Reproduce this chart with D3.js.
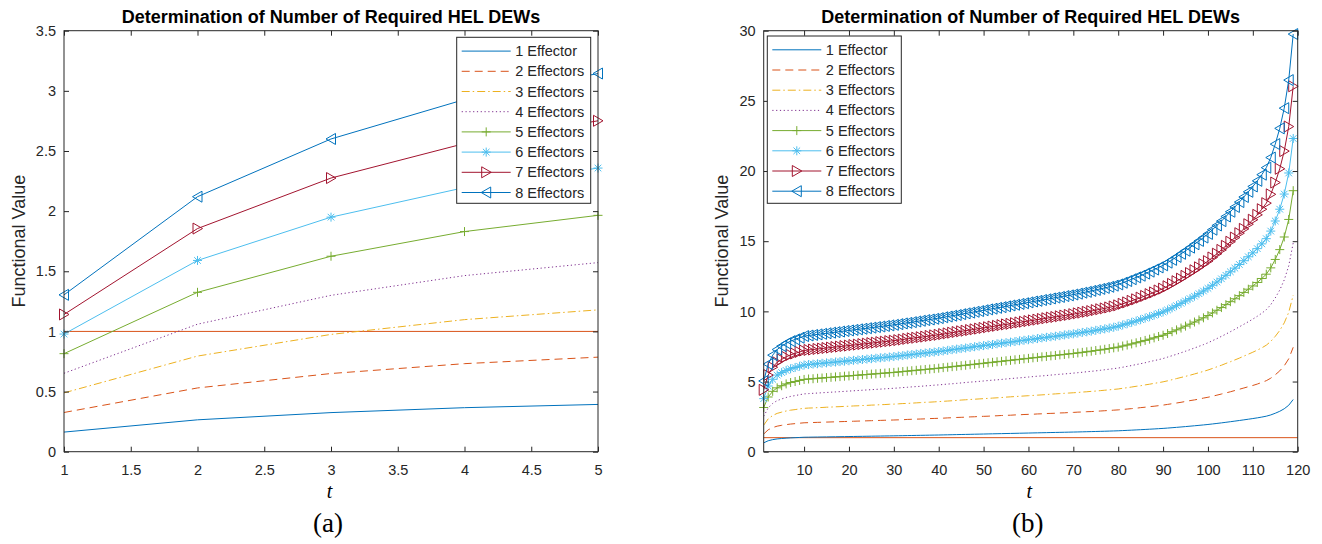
<!DOCTYPE html>
<html><head><meta charset="utf-8">
<script src="https://cdn.jsdelivr.net/npm/d3@7"></script>
<style>
body{margin:0;background:#fff}
svg{display:block}
</style>
</head><body>
<svg id="c" width="1322" height="544"></svg>
<script>
// ---------------- data ----------------
const seriesNames = ["1 Effector","2 Effectors","3 Effectors","4 Effectors","5 Effectors","6 Effectors","7 Effectors","8 Effectors"];
const chartTitle = "Determination of Number of Required HEL DEWs";
const yLabel = "Functional Value";
const xLabel = "t";
const refValue = 1;

// panel (a)
const tA = [1,2,3,4,5];
const a1 = [0.163,0.265,0.325,0.366,0.393];
const a2 = [0.326,0.530,0.650,0.732,0.786];
const a3 = [0.489,0.795,0.975,1.098,1.179];
const a4 = [0.652,1.060,1.300,1.464,1.572];
const a5 = [0.815,1.325,1.625,1.830,1.965];
const a6 = [0.978,1.590,1.950,2.196,2.358];
const a7 = [1.141,1.855,2.275,2.562,2.751];
const a8 = [1.304,2.120,2.600,2.928,3.144];
const xTicksA = [1,1.5,2,2.5,3,3.5,4,4.5,5];
const yTicksA = [0,0.5,1,1.5,2,2.5,3,3.5];

// panel (b)
const tB = d3.range(1,120);
const b1 = [0.630,0.780,0.860,0.910,0.940,0.965,0.985,1.000,1.015,1.030,
1.035,1.040,1.045,1.050,1.055,1.060,1.065,1.070,1.075,1.080,
1.085,1.090,1.095,1.100,1.105,1.110,1.115,1.120,1.125,1.130,
1.136,1.142,1.148,1.154,1.160,1.166,1.172,1.178,1.184,1.190,
1.197,1.204,1.211,1.218,1.225,1.232,1.239,1.246,1.253,1.260,
1.267,1.274,1.281,1.288,1.295,1.302,1.309,1.316,1.323,1.330,
1.337,1.344,1.351,1.358,1.365,1.372,1.379,1.386,1.393,1.400,
1.408,1.416,1.424,1.432,1.441,1.450,1.459,1.469,1.479,1.490,
1.505,1.520,1.536,1.552,1.568,1.586,1.604,1.622,1.641,1.660,
1.684,1.709,1.735,1.762,1.790,1.818,1.847,1.877,1.908,1.940,
1.977,2.015,2.054,2.095,2.137,2.180,2.224,2.269,2.315,2.362,
2.412,2.468,2.530,2.620,2.740,2.880,3.060,3.310,3.720];
const b2 = [1.26,1.56,1.72,1.82,1.88,1.93,1.97,2.00,2.03,2.06,
2.07,2.08,2.09,2.10,2.11,2.12,2.13,2.14,2.15,2.16,
2.17,2.18,2.19,2.20,2.21,2.22,2.23,2.24,2.25,2.26,
2.27,2.28,2.30,2.31,2.32,2.33,2.34,2.36,2.37,2.38,
2.39,2.41,2.42,2.44,2.45,2.46,2.48,2.49,2.51,2.52,
2.53,2.55,2.56,2.58,2.59,2.60,2.62,2.63,2.65,2.66,
2.67,2.69,2.70,2.72,2.73,2.74,2.76,2.77,2.79,2.80,
2.82,2.83,2.85,2.86,2.88,2.90,2.92,2.94,2.96,2.98,
3.01,3.04,3.07,3.10,3.14,3.17,3.21,3.24,3.28,3.32,
3.37,3.42,3.47,3.52,3.58,3.64,3.69,3.75,3.82,3.88,
3.95,4.03,4.11,4.19,4.27,4.36,4.45,4.54,4.63,4.72,
4.82,4.94,5.06,5.24,5.48,5.76,6.12,6.62,7.44];
const b3 = [1.89,2.34,2.58,2.73,2.82,2.90,2.96,3.00,3.05,3.09,
3.11,3.12,3.14,3.15,3.17,3.18,3.20,3.21,3.23,3.24,
3.26,3.27,3.29,3.30,3.32,3.33,3.35,3.36,3.38,3.39,
3.41,3.43,3.44,3.46,3.48,3.50,3.52,3.53,3.55,3.57,
3.59,3.61,3.63,3.65,3.68,3.70,3.72,3.74,3.76,3.78,
3.80,3.82,3.84,3.86,3.89,3.91,3.93,3.95,3.97,3.99,
4.01,4.03,4.05,4.07,4.10,4.12,4.14,4.16,4.18,4.20,
4.22,4.25,4.27,4.30,4.32,4.35,4.38,4.41,4.44,4.47,
4.52,4.56,4.61,4.66,4.70,4.76,4.81,4.87,4.92,4.98,
5.05,5.13,5.21,5.29,5.37,5.45,5.54,5.63,5.72,5.82,
5.93,6.05,6.16,6.29,6.41,6.54,6.67,6.81,6.95,7.09,
7.24,7.40,7.59,7.86,8.22,8.64,9.18,9.93,11.16];
const b4 = [2.52,3.12,3.44,3.64,3.76,3.86,3.94,4.00,4.06,4.12,
4.14,4.16,4.18,4.20,4.22,4.24,4.26,4.28,4.30,4.32,
4.34,4.36,4.38,4.40,4.42,4.44,4.46,4.48,4.50,4.52,
4.54,4.57,4.59,4.62,4.64,4.66,4.69,4.71,4.74,4.76,
4.79,4.82,4.84,4.87,4.90,4.93,4.96,4.98,5.01,5.04,
5.07,5.10,5.12,5.15,5.18,5.21,5.24,5.26,5.29,5.32,
5.35,5.38,5.40,5.43,5.46,5.49,5.52,5.54,5.57,5.60,
5.63,5.66,5.70,5.73,5.76,5.80,5.84,5.88,5.92,5.96,
6.02,6.08,6.14,6.21,6.27,6.34,6.42,6.49,6.56,6.64,
6.74,6.84,6.94,7.05,7.16,7.27,7.39,7.51,7.63,7.76,
7.91,8.06,8.22,8.38,8.55,8.72,8.90,9.08,9.26,9.45,
9.65,9.87,10.12,10.48,10.96,11.52,12.24,13.24,14.88];
const b5 = [3.15,3.90,4.30,4.55,4.70,4.83,4.93,5.00,5.08,5.15,
5.18,5.20,5.23,5.25,5.28,5.30,5.33,5.35,5.38,5.40,
5.43,5.45,5.48,5.50,5.53,5.55,5.58,5.60,5.63,5.65,
5.68,5.71,5.74,5.77,5.80,5.83,5.86,5.89,5.92,5.95,
5.99,6.02,6.06,6.09,6.13,6.16,6.20,6.23,6.27,6.30,
6.34,6.37,6.41,6.44,6.48,6.51,6.55,6.58,6.62,6.65,
6.69,6.72,6.76,6.79,6.83,6.86,6.90,6.93,6.97,7.00,
7.04,7.08,7.12,7.16,7.21,7.25,7.30,7.35,7.40,7.45,
7.53,7.60,7.68,7.76,7.84,7.93,8.02,8.11,8.21,8.30,
8.42,8.55,8.68,8.81,8.95,9.09,9.24,9.39,9.54,9.70,
9.89,10.08,10.27,10.48,10.69,10.90,11.12,11.35,11.58,11.81,
12.06,12.34,12.65,13.10,13.70,14.40,15.30,16.55,18.60];
const b6 = [3.78,4.68,5.16,5.46,5.64,5.79,5.91,6.00,6.09,6.18,
6.21,6.24,6.27,6.30,6.33,6.36,6.39,6.42,6.45,6.48,
6.51,6.54,6.57,6.60,6.63,6.66,6.69,6.72,6.75,6.78,
6.82,6.85,6.89,6.92,6.96,7.00,7.03,7.07,7.10,7.14,
7.18,7.22,7.27,7.31,7.35,7.39,7.43,7.48,7.52,7.56,
7.60,7.64,7.69,7.73,7.77,7.81,7.85,7.90,7.94,7.98,
8.02,8.06,8.11,8.15,8.19,8.23,8.27,8.32,8.36,8.40,
8.45,8.50,8.54,8.59,8.65,8.70,8.75,8.81,8.87,8.94,
9.03,9.12,9.22,9.31,9.41,9.52,9.62,9.73,9.85,9.96,
10.10,10.25,10.41,10.57,10.74,10.91,11.08,11.26,11.45,11.64,
11.86,12.09,12.32,12.57,12.82,13.08,13.34,13.61,13.89,14.17,
14.47,14.81,15.18,15.72,16.44,17.28,18.36,19.86,22.32];
const b7 = [4.41,5.46,6.02,6.37,6.58,6.76,6.90,7.00,7.11,7.21,
7.25,7.28,7.32,7.35,7.39,7.42,7.46,7.49,7.53,7.56,
7.60,7.63,7.67,7.70,7.74,7.77,7.81,7.84,7.88,7.91,
7.95,7.99,8.04,8.08,8.12,8.16,8.20,8.25,8.29,8.33,
8.38,8.43,8.48,8.53,8.58,8.62,8.67,8.72,8.77,8.82,
8.87,8.92,8.97,9.02,9.07,9.11,9.16,9.21,9.26,9.31,
9.36,9.41,9.46,9.51,9.56,9.60,9.65,9.70,9.75,9.80,
9.86,9.91,9.97,10.02,10.09,10.15,10.21,10.28,10.35,10.43,
10.54,10.64,10.75,10.86,10.98,11.10,11.23,11.35,11.49,11.62,
11.79,11.96,12.15,12.33,12.53,12.73,12.93,13.14,13.36,13.58,
13.84,14.11,14.38,14.67,14.96,15.26,15.57,15.88,16.21,16.53,
16.88,17.28,17.71,18.34,19.18,20.16,21.42,23.17,26.04];
const b8 = [5.04,6.24,6.88,7.28,7.52,7.72,7.88,8.00,8.12,8.24,
8.28,8.32,8.36,8.40,8.44,8.48,8.52,8.56,8.60,8.64,
8.68,8.72,8.76,8.80,8.84,8.88,8.92,8.96,9.00,9.04,
9.09,9.14,9.18,9.23,9.28,9.33,9.38,9.42,9.47,9.52,
9.58,9.63,9.69,9.74,9.80,9.86,9.91,9.97,10.02,10.08,
10.14,10.19,10.25,10.30,10.36,10.42,10.47,10.53,10.58,10.64,
10.70,10.75,10.81,10.86,10.92,10.98,11.03,11.09,11.14,11.20,
11.26,11.33,11.39,11.46,11.53,11.60,11.67,11.75,11.83,11.92,
12.04,12.16,12.29,12.42,12.54,12.69,12.83,12.98,13.13,13.28,
13.47,13.67,13.88,14.10,14.32,14.54,14.78,15.02,15.26,15.52,
15.82,16.12,16.43,16.76,17.10,17.44,17.79,18.15,18.52,18.90,
19.30,19.74,20.24,20.96,21.92,23.04,24.48,26.48,29.76];
const xTicksB = [10,20,30,40,50,60,70,80,90,100,110,120];
const yTicksB = [0,5,10,15,20,25,30];

// ---------------- styles ----------------
const colors = ["#0072BD","#D95319","#EDB120","#7E2F8E","#77AC30","#4DBEEE","#A2142F","#0072BD"];
const dashes = [null,"8,5","8,3,1.5,3","1.2,2.6",null,null,null,null];
const markers = [null,null,null,null,"+","*",">","<"];
const refColor = "#D95319";
const axisColor = "#262626";
const SANS = '"Liberation Sans",Arial,Helvetica,sans-serif';
const SERIF = '"Liberation Serif","Times New Roman",Times,serif';

function markerPath(m){
  if(m==="+") return "M-4.5,0H4.5M0,-4.5V4.5";
  if(m==="*") return "M-4.5,0H4.5M0,-4.5V4.5M-3.3,-3.3L3.3,3.3M-3.3,3.3L3.3,-3.3";
  if(m===">") return "M-4.5,-5.5L5,0L-4.5,5.5Z";
  if(m==="<") return "M4.5,-5.5L-5,0L4.5,5.5Z";
  return "";
}

const svg = d3.select("#c");

const panels = [
  {key:"a", t:tA, data:[a1,a2,a3,a4,a5,a6,a7,a8], xDomain:[1,5], yDomain:[0,3.5],
   xTicks:xTicksA, yTicks:yTicksA, left:64, right:598, top:30.7, bottom:451.7, ylabX:25,
   legend:{x:456.7,y:37.3,w:134,h:166}, label:"(a)"},
  {key:"b", t:tB, data:[b1,b2,b3,b4,b5,b6,b7,b8], xDomain:[1,120], yDomain:[0,30],
   xTicks:xTicksB, yTicks:yTicksB, left:763.7, right:1297.7, top:30.7, bottom:451.7, ylabX:728,
   legend:{x:767.3,y:36,w:134,h:167.3}, label:"(b)"}
];

panels.forEach(p=>{
  const g = svg.append("g");
  const x = d3.scaleLinear().domain(p.xDomain).range([p.left,p.right]);
  const y = d3.scaleLinear().domain(p.yDomain).range([p.bottom,p.top]);
  const cx = (p.left+p.right)/2, cy = (p.top+p.bottom)/2;

  g.append("clipPath").attr("id","clip"+p.key).append("rect")
    .attr("x",p.left).attr("y",p.top).attr("width",p.right-p.left).attr("height",p.bottom-p.top);

  // reference line
  g.append("line").attr("x1",x(p.xDomain[0])).attr("x2",x(p.xDomain[1]))
    .attr("y1",y(refValue)).attr("y2",y(refValue))
    .attr("stroke",refColor).attr("stroke-width",1);

  const line = d3.line().x((d,i)=>x(p.t[i])).y(d=>y(d));
  p.data.forEach((vals,k)=>{
    g.append("path").attr("d",line(vals)).attr("fill","none")
      .attr("stroke",colors[k]).attr("stroke-width",1)
      .attr("stroke-dasharray",dashes[k]).attr("clip-path","url(#clip"+p.key+")");
    if(markers[k]){
      g.append("g").selectAll("path").data(vals).join("path")
        .attr("d",markerPath(markers[k]))
        .attr("transform",(d,i)=>`translate(${x(p.t[i])},${y(d)})`)
        .attr("fill","none").attr("stroke",colors[k]).attr("stroke-width",1);
    }
  });

  // axes (ticks inward, mirrored)
  const fmt = d=>String(d);
  const ax = [
    [d3.axisBottom(x).tickValues(p.xTicks).tickFormat(fmt).tickPadding(13), p.bottom, "x"],
    [d3.axisTop(x).tickValues(p.xTicks).tickFormat(""), p.top, "x"],
    [d3.axisLeft(y).tickValues(p.yTicks).tickFormat(fmt).tickPadding(8), p.left, "y"],
    [d3.axisRight(y).tickValues(p.yTicks).tickFormat(""), p.right, "y"]
  ];
  ax.forEach(([a,pos,dir])=>{
    a.tickSizeInner(-5).tickSizeOuter(0);
    const ag = g.append("g").attr("transform",dir==="x"?`translate(0,${pos})`:`translate(${pos},0)`).call(a);
    ag.select(".domain").remove();
    ag.selectAll("line").attr("stroke",axisColor);
    ag.selectAll("text").style("font-size","14.5px").style("fill",axisColor).style("font-family",SANS);
  });
  g.append("rect").attr("x",p.left).attr("y",p.top).attr("width",p.right-p.left).attr("height",p.bottom-p.top)
    .attr("fill","none").attr("stroke",axisColor).attr("stroke-width",1);

  // legend
  const L = p.legend;
  const lg = g.append("g");
  lg.append("rect").attr("x",L.x).attr("y",L.y).attr("width",L.w).attr("height",L.h)
    .attr("fill","#fff").attr("stroke",axisColor).attr("stroke-width",1);
  seriesNames.forEach((name,k)=>{
    const ry = L.y + 13.8 + k*20.2;
    const lx0 = L.x+5, lx1 = L.x+54;
    lg.append("line").attr("x1",lx0).attr("x2",lx1).attr("y1",ry).attr("y2",ry)
      .attr("stroke",colors[k]).attr("stroke-width",1).attr("stroke-dasharray",dashes[k]);
    if(markers[k]) lg.append("path").attr("d",markerPath(markers[k]))
      .attr("transform",`translate(${(lx0+lx1)/2},${ry})`).attr("fill","none")
      .attr("stroke",colors[k]).attr("stroke-width",1);
    lg.append("text").attr("x",L.x+58.5).attr("y",ry).attr("dy","0.35em")
      .style("font-family",SANS).style("font-size","14.5px").style("fill",axisColor).text(name);
  });

  // title & labels
  g.append("text").attr("x",cx).attr("y",23).attr("text-anchor","middle")
    .style("font-family",SANS).style("font-size","18px").style("font-weight","bold").style("fill","#000").text(chartTitle);
  g.append("text").attr("transform",`translate(${p.ylabX},${cy}) rotate(-90)`)
    .attr("text-anchor","middle").style("font-family",SANS).style("font-size","18px").style("fill",axisColor).text(yLabel);
  g.append("text").attr("x",cx-1.5).attr("y",498).attr("text-anchor","middle")
    .style("font-family",SERIF).style("font-style","italic")
    .style("font-size","20px").style("fill","#000").text(xLabel);
  g.append("text").attr("x",cx-3).attr("y",532).attr("text-anchor","middle")
    .style("font-family",SERIF).style("font-size","27px").style("fill","#000").text(p.label);
});
</script>
</body></html>
